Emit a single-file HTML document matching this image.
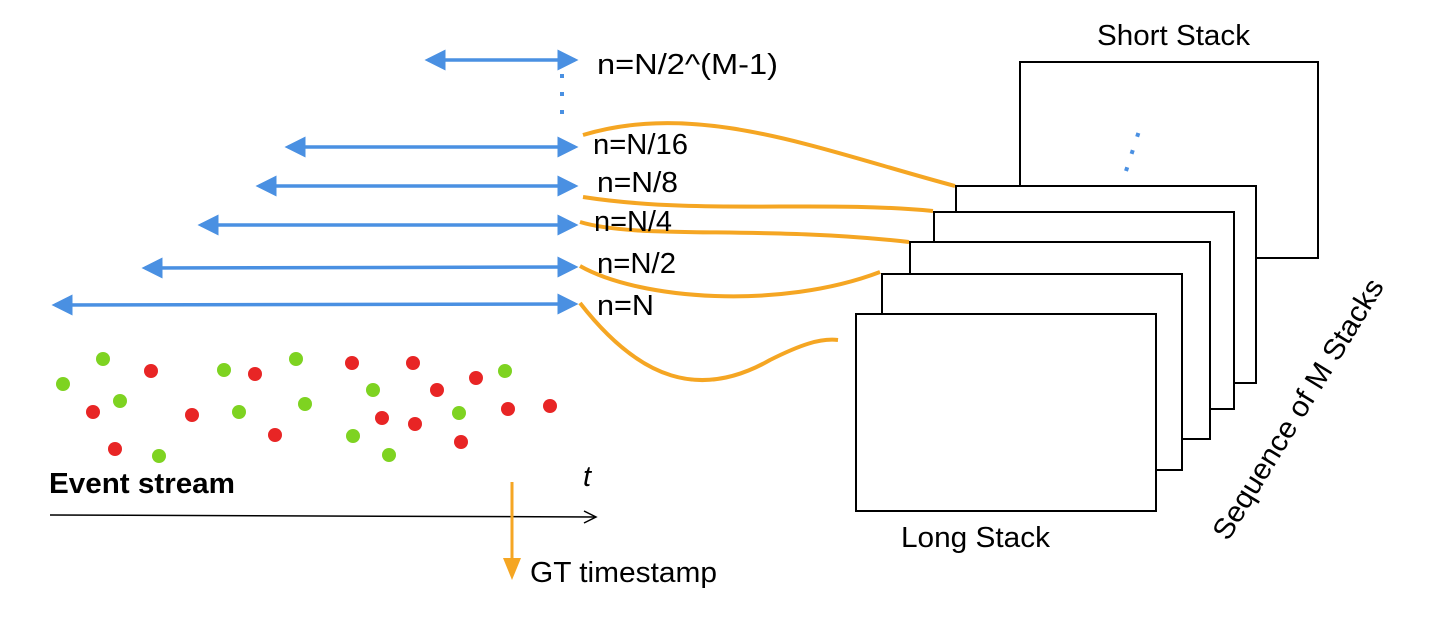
<!DOCTYPE html>
<html><head><style>body{margin:0;background:#fff}svg{display:block}text{font-family:"Liberation Sans",sans-serif}</style></head><body>
<svg width="1429" height="635" viewBox="0 0 1429 635" xmlns="http://www.w3.org/2000/svg">
<defs>
<marker id="ab" markerWidth="6" markerHeight="6" refX="5" refY="3" orient="auto-start-reverse" markerUnits="strokeWidth"><path d="M0,0 L6,3 L0,6 Z" fill="#4a90e2"/></marker>
</defs>
<g stroke="#4a90e2" stroke-width="3.5" marker-start="url(#ab)" marker-end="url(#ab)" fill="none">
<line x1="428" y1="60" x2="575" y2="60"/>
<line x1="288" y1="147" x2="575" y2="147"/>
<line x1="259" y1="186" x2="575" y2="186"/>
<line x1="201" y1="225" x2="575" y2="225"/>
<line x1="145" y1="268" x2="575" y2="267"/>
<line x1="55" y1="305" x2="575" y2="304"/>
</g>
<line x1="562" y1="74" x2="562" y2="120" stroke="#4a90e2" stroke-width="4" stroke-dasharray="4,14"/>
<g fill="none" stroke="#f5a623" stroke-width="4">
<path d="M583,135 C700,100 820,150 955,186"/>
<path d="M583,197 C700,215 820,200 933,211"/>
<path d="M580,222 C640,240 760,225 909,242"/>
<path d="M580,266 C640,300 780,310 880,272"/>
<path d="M580,303 C640,380 700,400 770,360 C800,345 820,338 838,340"/>
</g>
<g fill="#fff" stroke="#000" stroke-width="2">
<rect x="1020" y="62" width="298" height="196"/>
<rect x="956" y="186" width="300" height="197"/>
<rect x="934" y="212" width="300" height="197"/>
<rect x="910" y="242" width="300" height="197"/>
<rect x="882" y="274" width="300" height="196"/>
<rect x="856" y="314" width="300" height="197"/>
</g>
<line x1="1126" y1="171" x2="1140" y2="128" stroke="#4a90e2" stroke-width="4" stroke-dasharray="4,14"/>
<g fill="#7ed321">
<circle cx="63" cy="384" r="7"/><circle cx="103" cy="359" r="7"/><circle cx="120" cy="401" r="7"/><circle cx="159" cy="456" r="7"/><circle cx="224" cy="370" r="7"/><circle cx="239" cy="412" r="7"/><circle cx="296" cy="359" r="7"/><circle cx="305" cy="404" r="7"/><circle cx="373" cy="390" r="7"/><circle cx="353" cy="436" r="7"/><circle cx="389" cy="455" r="7"/><circle cx="459" cy="413" r="7"/><circle cx="505" cy="371" r="7"/>
</g>
<g fill="#e82525">
<circle cx="93" cy="412" r="7"/><circle cx="151" cy="371" r="7"/><circle cx="115" cy="449" r="7"/><circle cx="192" cy="415" r="7"/><circle cx="255" cy="374" r="7"/><circle cx="275" cy="435" r="7"/><circle cx="352" cy="363" r="7"/><circle cx="413" cy="363" r="7"/><circle cx="437" cy="390" r="7"/><circle cx="382" cy="418" r="7"/><circle cx="415" cy="424" r="7"/><circle cx="476" cy="378" r="7"/><circle cx="461" cy="442" r="7"/><circle cx="508" cy="409" r="7"/><circle cx="550" cy="406" r="7"/>
</g>
<line x1="50" y1="515" x2="595" y2="517" stroke="#000" stroke-width="1.5"/>
<path d="M584,511 L596,517 L584,523" fill="none" stroke="#000" stroke-width="1.5"/>
<line x1="512" y1="482" x2="512" y2="562" stroke="#f5a623" stroke-width="3"/>
<path d="M503,558 L521,558 L512,580 Z" fill="#f5a623"/>
<g font-size="29" fill="#000">
<text x="597" y="74" textLength="181" lengthAdjust="spacingAndGlyphs">n=N/2^(M-1)</text>
<text x="593" y="154" textLength="95" lengthAdjust="spacingAndGlyphs">n=N/16</text>
<text x="597" y="192" textLength="81" lengthAdjust="spacingAndGlyphs">n=N/8</text>
<text x="594" y="231" textLength="78" lengthAdjust="spacingAndGlyphs">n=N/4</text>
<text x="597" y="273" textLength="79" lengthAdjust="spacingAndGlyphs">n=N/2</text>
<text x="597" y="315" textLength="57" lengthAdjust="spacingAndGlyphs">n=N</text>
<text x="1097" y="45" textLength="153" lengthAdjust="spacingAndGlyphs">Short Stack</text>
<text x="901" y="547" textLength="149" lengthAdjust="spacingAndGlyphs">Long Stack</text>
<text x="530" y="582" textLength="187" lengthAdjust="spacingAndGlyphs">GT timestamp</text>
<text x="583" y="486" font-style="italic">t</text>
<text x="49" y="493" font-weight="bold" textLength="186" lengthAdjust="spacingAndGlyphs">Event stream</text>
<text transform="translate(1228,542) rotate(-58.5)" textLength="300" lengthAdjust="spacingAndGlyphs">Sequence of M Stacks</text>
</g>
</svg>
</body></html>
